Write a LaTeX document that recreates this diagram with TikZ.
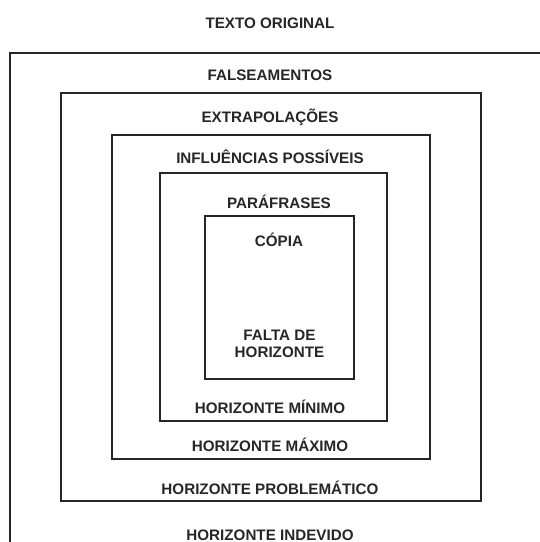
\documentclass[tikz,border=0pt]{standalone}
\usepackage{fontspec}
\setmainfont{Liberation Sans}
\begin{document}
\begin{tikzpicture}[x=1pt,y=-1pt,
  boxline/.style={draw=black!85,line width=1.8pt},
  lbl/.style={font=\fontsize{15.2}{17.5}\selectfont\bfseries,text=black!85,inner sep=0pt,anchor=center}]
\useasboundingbox (0,0) rectangle (540,542);
% outer (open) box
\draw[boxline] (545,53) -- (10,53) -- (10,547);
\draw[boxline] (61,93) rectangle (481,501);
\draw[boxline] (112,135) rectangle (430,459);
\draw[boxline] (160,173) rectangle (387,421);
\draw[boxline] (205,216) rectangle (354,379);
% labels
\node[lbl] (orig) at (270,23) {TEXTO ORIGINAL};
\node[lbl] (fals) at (270,75) {FALSEAMENTOS};
\node[lbl] (extr) at (270,117) {EXTRAPOLAÇÕES};
\node[lbl] (infl) at (270,157) {INFLUÊNCIAS POSSÍVEIS};
\node[lbl] (para) at (279,202) {PARÁFRASES};
\node[lbl] (copi) at (279,240) {CÓPIA};
\node[lbl,align=center] (falt) at (279.5,344) {FALTA DE\\HORIZONTE};
\node[lbl] (hmin) at (270,407) {HORIZONTE MÍNIMO};
\node[lbl] (hmax) at (270,445) {HORIZONTE MÁXIMO};
\node[lbl] (hpro) at (270,488) {HORIZONTE PROBLEMÁTICO};
\node[lbl] (hind) at (270,535) {HORIZONTE INDEVIDO};
\end{tikzpicture}
\end{document}
